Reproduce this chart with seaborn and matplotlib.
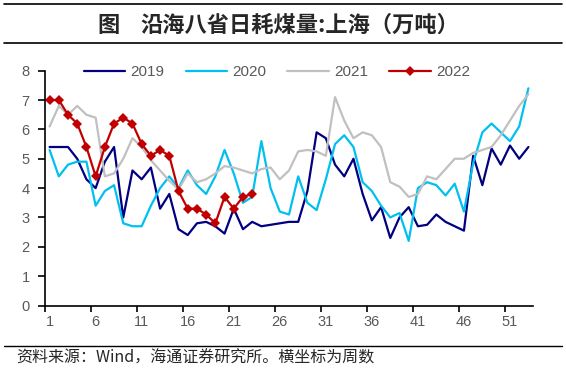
import numpy as np
import pandas as pd
import matplotlib
matplotlib.use('Agg')
import matplotlib.pyplot as plt
import seaborn as sns

sns.set_style('white')
plt.rcParams['font.family'] = ['Liberation Sans', 'Noto Sans CJK SC']

# weekly daily coal consumption, Shanghai (10k tons)
weeks = list(range(1, 54))
y2019 = [5.4, 5.4, 5.4, 5.0, 4.3, 4.0, 4.9, 5.4, 3.0, 4.6,
         4.3, 4.7, 3.3, 3.8, 2.6, 2.4, 2.8, 2.85, 2.7, 2.45,
         3.3, 2.6, 2.85, 2.7, 2.75, 2.8, 2.85, 2.85, 3.9, 5.9,
         5.7, 4.8, 4.4, 5.0, 3.8, 2.9, 3.35, 2.3, 3.0, 3.35,
         2.7, 2.75, 3.1, 2.85, 2.7, 2.55, 5.1, 4.1, 5.35, 4.8,
         5.45, 5.0, 5.4]
y2020 = [5.3, 4.4, 4.8, 4.9, 4.9, 3.4, 3.9, 4.1, 2.8, 2.7,
         2.7, 3.4, 4.0, 4.4, 4.0, 4.6, 4.1, 3.8, 4.4, 5.3,
         4.5, 3.5, 3.7, 5.6, 4.0, 3.2, 3.1, 4.4, 3.5, 3.25,
         4.3, 5.5, 5.8, 5.4, 4.2, 3.9, 3.4, 3.0, 3.15, 2.2,
         4.0, 4.2, 4.1, 3.75, 4.15, 3.2, 4.85, 5.9, 6.2, 5.9,
         5.6, 6.1, 7.4]
y2021 = [6.1, 6.8, 6.5, 6.8, 6.5, 6.4, 4.4, 4.5, 5.0, 5.7,
         5.4, 4.95, 4.6, 4.25, 3.95, 4.5, 4.2, 4.3, 4.5, 4.75,
         4.7, 4.6, 4.5, 4.65, 4.7, 4.3, 4.6, 5.25, 5.3, 5.25,
         5.1, 7.1, 6.3, 5.7, 5.9, 5.8, 5.4, 4.2, 4.05, 3.7,
         3.8, 4.4, 4.3, 4.65, 5.0, 5.0, 5.2, 5.3, 5.4, 5.8,
         6.3, 6.8, 7.2]
y2022 = [7.0, 7.0, 6.5, 6.2, 5.4, 4.4, 5.4, 6.2, 6.4, 6.2,
         5.5, 5.1, 5.3, 5.1, 3.9, 3.3, 3.3, 3.1, 2.8, 3.7,
         3.3, 3.7, 3.8]

labels = ['2019', '2020', '2021', '2022']
colors = ['#000080', '#00C0F0', '#C0C0C0', '#C00000']
markers = [None, None, None, 'D']

fig = plt.figure(figsize=(5.66, 3.8), dpi=100)
ax = fig.add_axes([45 / 566, (380 - 305.5) / 380, 488 / 566, 234.8 / 380])

for lab, vals, col, mk in zip(labels, [y2019, y2020, y2021, y2022], colors, markers):
    sns.lineplot(x=weeks[:len(vals)], y=vals, color=col, lw=1.6, marker=mk,
                 markersize=5.5, markeredgewidth=0, label=lab, ax=ax)

ax.set_xlim(0.5, 53.5)
ax.set_ylim(0, 8)
ax.set_xticks(range(1, 52, 5))
ax.set_xticks(np.arange(0.5, 51, 5), minor=True)
ax.tick_params(axis='x', which='major', length=0, pad=7, labelsize=10.5, labelcolor='#595959')
ax.tick_params(axis='x', which='minor', length=4, width=1.2, direction='out', color='black', bottom=True)
ax.set_yticks(range(0, 9))
ax.tick_params(axis='y', length=5, width=1.2, direction='out', color='black', left=True,
               pad=6, labelsize=10.5, labelcolor='#595959')
for s in ['top', 'right']:
    ax.spines[s].set_visible(False)
for s in ['left', 'bottom']:
    ax.spines[s].set_color('black')
    ax.spines[s].set_linewidth(1.2)
ax.grid(False)

ax.legend(ncol=4, loc='center', bbox_to_anchor=(0.475, 0.994), frameon=False,
          handlelength=2.7, handletextpad=0.35, columnspacing=1.4,
          fontsize=11, labelcolor='#595959')

# title block and source note
fig.add_artist(plt.Line2D([4 / 566, 562 / 566], [1 - 3.6 / 380] * 2, color='black', lw=1.2))
fig.add_artist(plt.Line2D([4 / 566, 562 / 566], [1 - 43 / 380] * 2, color='black', lw=1.2))
fig.add_artist(plt.Line2D([4 / 566, 562 / 566], [1 - 346 / 380] * 2, color='black', lw=1.0))
title_kw = dict(fontsize=16, fontweight='bold', family='Noto Sans CJK SC', va='center')
fig.text(97 / 566, 1 - 25 / 380, '图', ha='left', **title_kw)
fig.text(140 / 566, 1 - 25 / 380, '沿海八省日耗煤量:上海（万吨）', ha='left', **title_kw)
fig.text(16 / 566, 1 - 358 / 380, '资料来源：Wind，海通证券研究所。横坐标为周数', fontsize=11.5,
         family=['Noto Sans CJK SC', 'DejaVu Sans'], ha='left', va='center')

fig.savefig('out.png', dpi=100)
